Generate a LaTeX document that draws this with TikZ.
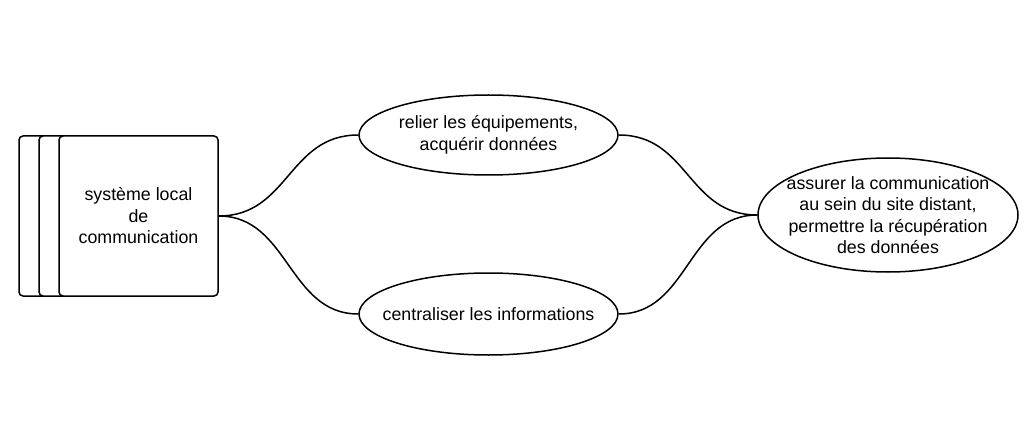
\documentclass[tikz,border=0pt]{standalone}
\usepackage{fontspec}
\setmainfont{Liberation Sans}
\usetikzlibrary{shapes.geometric}

\begin{document}
\begin{tikzpicture}[x=1pt,y=-1pt,line width=1.5pt]

            \tikzstyle{every node}=[font=\fontsize{17.8}{21.5}\selectfont,align=center]
            \tikzstyle{every label}=[line width=0pt]
            \tikzstyle{layer}=[draw=black,fill=white,rounded corners=4pt,minimum width=159pt,minimum height=160pt,inner sep=0pt]
            \tikzstyle{task}=[ellipse,draw=black,fill=white,inner sep=0pt,minimum width=259pt]

            \useasboundingbox (0,0) rectangle (1029,425);

            \node[layer] (0c) at (98.5,216)  {};
            \node[layer] (0b) at (118.5,216) {};
            \node[layer] (0)  at (138.5,216) {système local\\de\\communication};

            \node[task,minimum height=80pt,label=center:{relier les équipements,\\acquérir données}]  (1) at (488.5,135) {};
            \node[task,minimum height=82pt,label=center:{centraliser les informations}]  (2) at (488.5,314) {};
            \node[task,minimum width=260pt,minimum height=114pt,label=center:{assurer la communication\\au sein du site distant,\\permettre la récupération\\des données}] (3) at (888,215) {};

            \draw (0.east) .. controls +(70,0) and +(-70,0) .. (1.west);
            \draw (0.east) .. controls +(70,0) and +(-70,0) .. (2.west);
            \draw (1.east) .. controls +(70,0) and +(-70,0) .. (3.west);
            \draw (2.east) .. controls +(70,0) and +(-70,0) .. (3.west);
        \end{tikzpicture}
\end{document}
